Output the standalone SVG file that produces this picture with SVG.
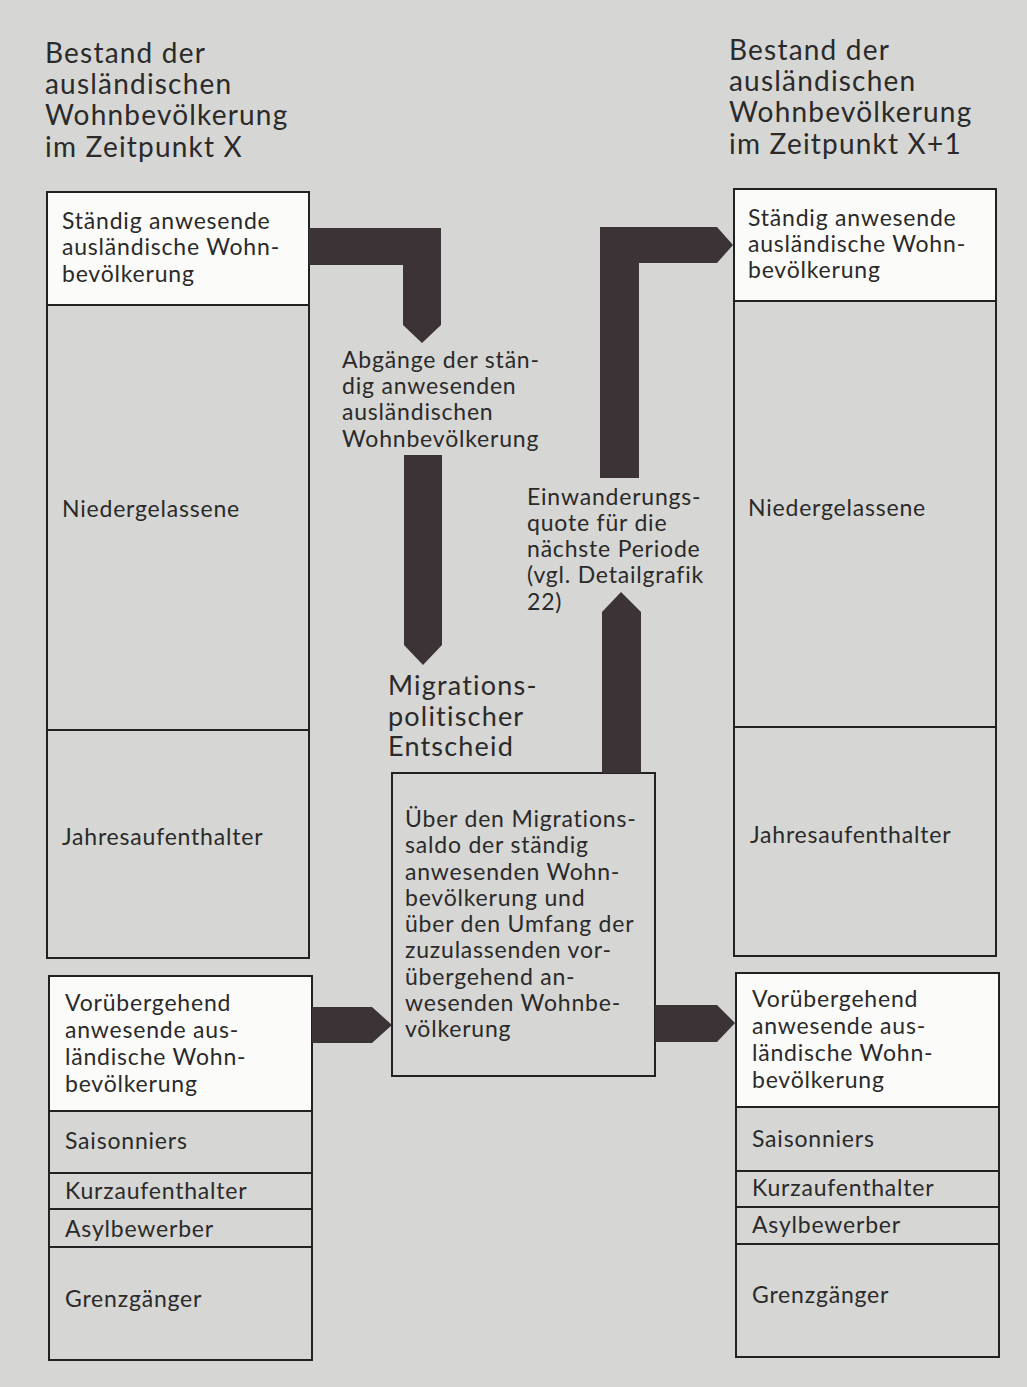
<svg xmlns="http://www.w3.org/2000/svg" width="1027" height="1387" viewBox="0 0 1027 1387">
<style>
text{font-family:Lato,"Liberation Sans",sans-serif;fill:#2b2a2a}
.h{font-size:28px;letter-spacing:1.2px}
.b{font-size:23px;letter-spacing:0.8px}
.m{font-size:27px;letter-spacing:1.2px}
.box{fill:none;stroke:#222;stroke-width:2}
.w{fill:#fbfbfa;stroke:#222;stroke-width:2}
.g{fill:#d6d6d4;stroke:#222;stroke-width:2}
.arr{fill:#3b3335}
</style>
<rect x="0" y="0" width="1027" height="1387" fill="#d6d6d4"/>

<g id="header-left">
<text class="h" x="45" y="63">Bestand der</text>
<text class="h" x="45" y="94">ausländischen</text>
<text class="h" x="45" y="125">Wohnbevölkerung</text>
<text class="h" x="45" y="157">im Zeitpunkt X</text>
</g>
<g id="header-right">
<text class="h" x="729" y="60">Bestand der</text>
<text class="h" x="729" y="91">ausländischen</text>
<text class="h" x="729" y="122">Wohnbevölkerung</text>
<text class="h" x="729" y="154">im Zeitpunkt X+1</text>
</g>

<g id="left-permanent">
<rect class="g" x="47" y="192" width="262" height="766"/>
<rect class="w" x="47" y="192" width="262" height="113"/>
<line class="box" x1="47" y1="730" x2="309" y2="730"/>
<text class="b" x="62" y="229">Ständig anwesende</text>
<text class="b" x="62" y="255">ausländische Wohn-</text>
<text class="b" x="62" y="282">bevölkerung</text>
<text class="b" x="62" y="517">Niedergelassene</text>
<text class="b" x="62" y="845">Jahresaufenthalter</text>
</g>

<g id="left-temporary">
<rect class="g" x="49" y="976" width="263" height="384"/>
<rect class="w" x="49" y="976" width="263" height="135"/>
<line class="box" x1="49" y1="1173" x2="312" y2="1173"/>
<line class="box" x1="49" y1="1209" x2="312" y2="1209"/>
<line class="box" x1="49" y1="1247" x2="312" y2="1247"/>
<text class="b" x="65" y="1011">Vorübergehend</text>
<text class="b" x="65" y="1038">anwesende aus-</text>
<text class="b" x="65" y="1065">ländische Wohn-</text>
<text class="b" x="65" y="1092">bevölkerung</text>
<text class="b" x="65" y="1149">Saisonniers</text>
<text class="b" x="65" y="1199">Kurzaufenthalter</text>
<text class="b" x="65" y="1237">Asylbewerber</text>
<text class="b" x="65" y="1307">Grenzgänger</text>
</g>

<g id="right-permanent">
<rect class="g" x="734" y="189" width="262" height="767"/>
<rect class="w" x="734" y="189" width="262" height="112"/>
<line class="box" x1="734" y1="727" x2="996" y2="727"/>
<text class="b" x="748" y="226">Ständig anwesende</text>
<text class="b" x="748" y="252">ausländische Wohn-</text>
<text class="b" x="748" y="278">bevölkerung</text>
<text class="b" x="748" y="516">Niedergelassene</text>
<text class="b" x="750" y="843">Jahresaufenthalter</text>
</g>

<g id="right-temporary">
<rect class="g" x="736" y="973" width="263" height="384"/>
<rect class="w" x="736" y="973" width="263" height="134"/>
<line class="box" x1="736" y1="1171" x2="999" y2="1171"/>
<line class="box" x1="736" y1="1207" x2="999" y2="1207"/>
<line class="box" x1="736" y1="1244" x2="999" y2="1244"/>
<text class="b" x="752" y="1007">Vorübergehend</text>
<text class="b" x="752" y="1034">anwesende aus-</text>
<text class="b" x="752" y="1061">ländische Wohn-</text>
<text class="b" x="752" y="1088">bevölkerung</text>
<text class="b" x="752" y="1147">Saisonniers</text>
<text class="b" x="752" y="1196">Kurzaufenthalter</text>
<text class="b" x="752" y="1233">Asylbewerber</text>
<text class="b" x="752" y="1303">Grenzgänger</text>
</g>

<g id="decision">
<text class="m" x="388" y="695">Migrations-</text>
<text class="m" x="388" y="726">politischer</text>
<text class="m" x="388" y="756">Entscheid</text>
<rect class="g" x="392" y="773" width="263" height="303"/>
<text class="b" x="405" y="827">Über den Migrations-</text>
<text class="b" x="405" y="853">saldo der ständig</text>
<text class="b" x="405" y="880">anwesenden Wohn-</text>
<text class="b" x="405" y="906">bevölkerung und</text>
<text class="b" x="405" y="932">über den Umfang der</text>
<text class="b" x="405" y="958">zuzulassenden vor-</text>
<text class="b" x="405" y="985">übergehend an-</text>
<text class="b" x="405" y="1011">wesenden Wohnbe-</text>
<text class="b" x="405" y="1037">völkerung</text>
</g>

<g id="connectors">
<polygon class="arr" points="309,228 441,228 441,325 422,343 403,325 403,265 309,265"/>
<polygon class="arr" points="404,455 442,455 442,645 423,665 404,645"/>
<polygon class="arr" points="600,478 600,227 717,227 733,245 717,263 639,263 639,478"/>
<polygon class="arr" points="602,773 602,612 621,592 641,612 641,773"/>
<polygon class="arr" points="312,1007 372,1007 392,1025 372,1043 312,1043"/>
<polygon class="arr" points="655,1005 717,1005 735,1023 717,1042 655,1042"/>
<text class="b" x="342" y="368">Abgänge der stän-</text>
<text class="b" x="342" y="394">dig anwesenden</text>
<text class="b" x="342" y="420">ausländischen</text>
<text class="b" x="342" y="447">Wohnbevölkerung</text>
<text class="b" x="527" y="505">Einwanderungs-</text>
<text class="b" x="527" y="531">quote für die</text>
<text class="b" x="527" y="557">nächste Periode</text>
<text class="b" x="527" y="583">(vgl. Detailgrafik</text>
<text class="b" x="527" y="610">22)</text>
</g>
</svg>
